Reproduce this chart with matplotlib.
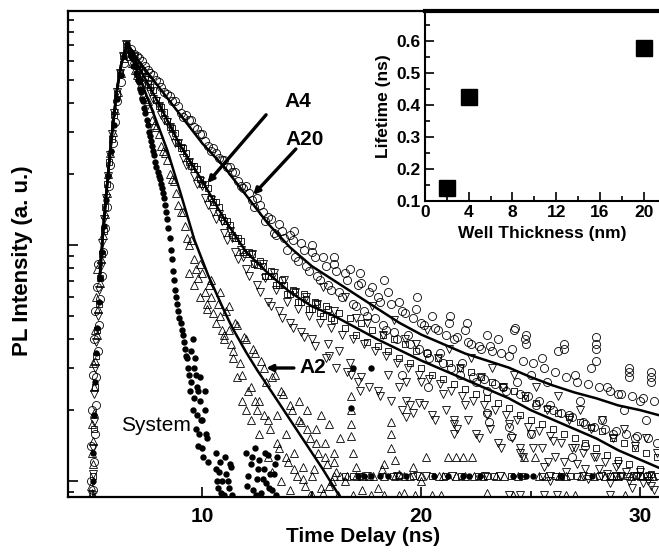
import numpy as np
import matplotlib
matplotlib.use("Agg")
import matplotlib.pyplot as plt
from matplotlib.ticker import FixedLocator, LogLocator, NullFormatter, FormatStrFormatter

plt.rcParams["font.family"] = ["Liberation Sans", "DejaVu Sans"]
plt.rcParams["font.weight"] = "bold"

# time channels of the slow decays (ns); the second set sits between the first
T_DECAY = [6.75, 7.0, 7.25, 7.5, 7.75, 8.0, 8.25, 8.5, 8.75, 9.0,
           9.25, 9.5, 9.75, 10.0, 10.25, 10.5, 10.75, 11.0, 11.25, 11.5,
           11.75, 12.0, 12.25, 12.5, 12.75, 13.0, 13.25, 13.5, 13.75, 14.0,
           14.25, 14.5, 14.75, 15.0, 15.25, 15.5, 15.75, 16.0, 16.25, 16.5,
           16.75, 17.0, 17.25, 17.5, 17.75, 18.0, 18.25, 18.5, 18.75, 19.0,
           19.25, 19.5, 19.75, 20.0, 20.25, 20.5, 20.75, 21.0, 21.25, 21.5,
           21.75, 22.0, 22.25, 22.5, 22.75, 23.0, 23.25, 23.5, 23.75, 24.0,
           24.25, 24.5, 24.75, 25.0, 25.25, 25.5, 25.75, 26.0, 26.25, 26.5,
           26.75, 27.0, 27.25, 27.5, 27.75, 28.0, 28.25, 28.5, 28.75, 29.0,
           29.25, 29.5, 29.75, 30.0, 30.25, 30.5, 30.75]
T_HALF = [6.875, 7.125, 7.375, 7.625, 7.875, 8.125, 8.375, 8.625, 8.875, 9.125,
          9.375, 9.625, 9.875, 10.125, 10.375, 10.625, 10.875, 11.125, 11.375, 11.625,
          11.875, 12.125, 12.375, 12.625, 12.875, 13.125, 13.375, 13.625, 13.875, 14.125,
          14.375, 14.625, 14.875, 15.125, 15.375, 15.625, 15.875, 16.125, 16.375, 16.625,
          16.875, 17.125, 17.375, 17.625, 17.875, 18.125, 18.375, 18.625, 18.875, 19.125,
          19.375, 19.625, 19.875, 20.125, 20.375, 20.625, 20.875, 21.125, 21.375, 21.625,
          21.875, 22.125, 22.375, 22.625, 22.875, 23.125, 23.375, 23.625, 23.875, 24.125,
          24.375, 24.625, 24.875, 25.125, 25.375, 25.625, 25.875, 26.125, 26.375, 26.625,
          26.875, 27.125, 27.375, 27.625, 27.875, 28.125, 28.375, 28.625, 28.875, 29.125,
          29.375, 29.625, 29.875, 30.125, 30.375, 30.625]

# intensities are stored as log10 of PL intensity (a. u.)
a20_rise_t = [5.02, 5.05, 5.08, 5.12, 5.16, 5.21, 5.27, 5.33, 5.4, 5.48,
              5.56, 5.64, 5.72, 5.8, 5.9, 6.01, 6.12, 6.26, 6.4, 6.55,
              4.9, 4.93, 4.96, 5.0, 5.05, 5.1, 5.18, 5.25]
a20_rise_log = [-1.04, -0.92, -0.80, -0.68, -0.56, -0.45, -0.34, -0.23, -0.13, -0.03,
                0.07, 0.16, 0.25, 0.34, 0.43, 0.52, 0.61, 0.69, 0.77, 0.83,
                -1.0, -0.85, -0.70, -0.55, -0.40, -0.28, -0.18, -0.08]
a20_log = [0.83, 0.80, 0.78, 0.74, 0.72, 0.69, 0.65, 0.63, 0.61, 0.56,
           0.55, 0.53, 0.49, 0.47, 0.42, 0.41, 0.37, 0.36, 0.33, 0.31,
           0.25, 0.25, 0.19, 0.20, 0.14, 0.12, 0.05, 0.09, 0.03, 0.04,
           -0.05, 0.01, -0.09, -0.03, -0.13, -0.05, -0.17, -0.08, -0.20, -0.12,
           -0.10, -0.26, -0.16, -0.30, -0.18, -0.22, -0.34, -0.20, -0.37, -0.24,
           -0.29, -0.42, -0.27, -0.33, -0.46, -0.30, -0.36, -0.50, -0.33, -0.40,
           -0.55, -0.36, -0.42, -0.58, -0.44, -0.62, -0.45, -0.40, -0.60, -0.47,
           -0.36, -0.63, -0.40, -0.55, -0.68, -0.48, -0.58, -0.70, -0.45, -0.44,
           -0.72, -0.55, -0.66, -0.76, -0.52, -0.42, -0.74, -0.60, -0.80, -0.63,
           -0.70, -0.54, -0.82, -0.66, -0.74, -0.56, -0.84]
a20_log_half = [0.81, 0.79, 0.76, 0.73, 0.70, 0.67, 0.64, 0.61, 0.59, 0.54,
                0.53, 0.50, 0.47, 0.44, 0.40, 0.39, 0.36, 0.33, 0.31, 0.27,
                0.24, 0.22, 0.16, 0.17, 0.10, 0.11, 0.04, 0.06, -0.02, 0.02,
                -0.07, -0.02, -0.11, -0.05, -0.15, -0.09, -0.19, -0.11, -0.22, -0.15,
                -0.25, -0.17, -0.28, -0.20, -0.31, -0.24, -0.36, -0.25, -0.40, -0.28,
                -0.38, -0.31, -0.44, -0.34, -0.48, -0.35, -0.46, -0.38, -0.52, -0.39,
                -0.50, -0.41, -0.56, -0.43, -0.57, -0.43, -0.59, -0.46, -0.62, -0.44,
                -0.58, -0.49, -0.64, -0.50, -0.66, -0.52, -0.68, -0.54, -0.71, -0.56,
                -0.73, -0.58, -0.75, -0.59, -0.77, -0.60, -0.78, -0.62, -0.79, -0.63,
                -0.80, -0.64, -0.81, -0.65, -0.82, -0.66]
a20_extra_t = [14.2, 15.0, 16.0, 17.2, 18.3, 19.8, 21.3, 22.1, 23.0, 24.3,
               24.8, 24.8, 26.5, 28.0, 28.0, 28.0, 29.5, 29.5, 30.5, 30.5,
               19.1, 20.3, 23.0, 23.1, 24.0, 24.1, 25.0, 26.9, 27.5]
a20_extra_log = [0.06, 0.0, -0.05, -0.12, -0.15, -0.22, -0.30, -0.33, -0.38, -0.35,
                 -0.38, -0.42, -0.42, -0.39, -0.44, -0.49, -0.52, -0.56, -0.54, -0.58,
                 -0.55, -0.60, -0.71, -0.75, -0.77, -0.81, -0.80, -0.90, -0.85]

a4_sq_rise_t = [5.0, 5.04, 5.09, 5.14, 5.2, 5.26, 5.33, 5.41, 5.49, 5.57,
                5.66, 5.75, 5.85, 5.96, 6.08, 6.22, 6.37, 6.52]
a4_sq_rise_log = [-0.98, -0.78, -0.60, -0.47, -0.36, -0.25, -0.14, -0.04, 0.06, 0.16,
                  0.26, 0.35, 0.45, 0.55, 0.64, 0.73, 0.80, 0.85]
a4_sq_log = [0.81, 0.76, 0.74, 0.68, 0.655, 0.59, 0.565, 0.50, 0.475, 0.41,
             0.39, 0.335, 0.32, 0.26, 0.24, 0.18, 0.16, 0.10, 0.085, 0.03,
             0.015, -0.04, -0.04, -0.085, -0.09, -0.13, -0.13, -0.17, -0.17, -0.21,
             -0.20, -0.24, -0.23, -0.27, -0.25, -0.30, -0.27, -0.32, -0.29, -0.35,
             -0.31, -0.38, -0.33, -0.41, -0.36, -0.43, -0.38, -0.45, -0.40, -0.48,
             -0.42, -0.50, -0.45, -0.52, -0.46, -0.55, -0.48, -0.57, -0.50, -0.59,
             -0.52, -0.61, -0.54, -0.63, -0.56, -0.65, -0.58, -0.67, -0.60, -0.69,
             -0.62, -0.72, -0.65, -0.74, -0.67, -0.76, -0.69, -0.78, -0.71, -0.80,
             -0.73, -0.82, -0.75, -0.84, -0.77, -0.86, -0.79, -0.89, -0.82, -0.91,
             -0.84, -0.93, -0.86, -0.95, -0.88, -0.97, -0.90]
# squares on the half channels only up to 16 ns
a4_sq_log_half = [0.80, 0.745, 0.71, 0.67, 0.615, 0.585, 0.525, 0.495, 0.43, 0.41,
                  0.35, 0.335, 0.28, 0.26, 0.20, 0.18, 0.12, 0.10, 0.04, 0.03,
                  -0.03, -0.03, -0.08, -0.07, -0.13, -0.11, -0.17, -0.15, -0.21, -0.19,
                  -0.24, -0.21, -0.27, -0.24, -0.29, -0.26, -0.31]

a4_dn_rise_t = [4.96, 4.98, 5.0, 5.03, 5.06, 5.1, 5.15, 5.21, 5.28, 5.35,
                5.43, 5.51, 5.59, 5.68, 5.77, 5.87, 5.98, 6.1, 6.24, 6.38, 6.52]
a4_dn_rise_log = [-1.06, -0.97, -0.86, -0.75, -0.63, -0.52, -0.41, -0.30, -0.19, -0.09,
                  0.01, 0.11, 0.20, 0.29, 0.38, 0.47, 0.56, 0.65, 0.73, 0.80, 0.85]
a4_dn_log = [0.80, 0.76, 0.71, 0.68, 0.62, 0.59, 0.53, 0.50, 0.43, 0.41,
             0.34, 0.33, 0.26, 0.25, 0.17, 0.14, 0.13, 0.05, 0.06, -0.03,
             -0.02, -0.10, -0.04, -0.17, -0.08, -0.24, -0.12, -0.28, -0.15, -0.33,
             -0.20, -0.37, -0.22, -0.40, -0.25, -0.18, -0.42, -0.28, -0.45, -0.22,
             -0.50, -0.31, -0.56, -0.33, -0.26, -0.62, -0.38, -0.55, -0.32, -0.60,
             -0.40, -0.68, -0.42, -0.58, -0.36, -0.72, -0.48, -0.63, -0.44, -0.76,
             -0.52, -0.68, -0.48, -0.80, -0.56, -0.72, -0.52, -0.84, -0.60, -0.76,
             -0.55, -0.88, -0.64, -0.80, -0.60, -0.86, -0.70, -0.83, -0.64, -0.92,
             -0.74, -0.86, -0.70, -0.95, -0.78, -0.90, -0.74, -0.97, -0.82, -0.93,
             -0.78, -1.00, -0.85, -0.96, -0.82, -1.02, -0.88]
a4_dn_log_half = [0.78, 0.73, 0.70, 0.65, 0.61, 0.55, 0.52, 0.46, 0.43, 0.37,
                  0.35, 0.29, 0.27, 0.20, 0.19, 0.11, 0.10, 0.02, 0.03, -0.06,
                  -0.05, -0.13, -0.08, -0.20, -0.14, -0.26, -0.19, -0.31, -0.24, -0.35,
                  -0.27, -0.39, -0.30, -0.43, -0.33, -0.48, -0.35, -0.52, -0.38, -0.54,
                  -0.40, -0.58, -0.42, -0.60, -0.45, -0.64, -0.47, -0.66, -0.50, -0.70,
                  -0.52, -0.71, -0.55, -0.68, -0.57, -0.74, -0.59, -0.70, -0.62, -0.78,
                  -0.64, -0.74, -0.66, -0.82, -0.68, -0.78, -0.70, -0.86, -0.72, -0.82,
                  -0.74, -0.90, -0.77, -0.86, -0.79, -0.94, -0.81, -0.90, -0.84, -0.96,
                  -0.86, -0.93, -0.88, -0.99, -0.90, -0.95, -0.92, -1.01, -0.94, -0.98,
                  -0.96, -1.03, -0.98, -1.01, -1.00, -1.04]
a4_dn_extra_t = [15.8, 16.8, 17.2, 19.3, 19.3, 19.3, 19.9, 21.5, 21.5, 24.5, 25.8, 25.9]
a4_dn_extra_log = [-0.47, -0.55, -0.62, -0.58, -0.66, -0.73, -0.67, -0.74, -0.80, -0.86, -0.92, -1.00]

a2_rise_t = [4.95, 4.99, 5.01, 5.04, 5.07, 5.11, 5.17, 5.24, 5.31, 5.39,
             5.47, 5.55, 5.63, 5.71, 5.8, 5.9, 6.01, 6.13, 6.27, 6.41, 6.55,
             4.92, 4.94, 4.97, 5.02, 5.08, 5.14, 5.2]
a2_rise_log = [-1.05, -0.93, -0.83, -0.71, -0.60, -0.49, -0.38, -0.27, -0.16, -0.06,
               0.04, 0.13, 0.22, 0.30, 0.39, 0.48, 0.57, 0.65, 0.73, 0.79, 0.84,
               -1.02, -0.88, -0.76, -0.50, -0.36, -0.22, -0.10]
a2_t = [6.7, 6.9, 7.1, 7.3, 7.5, 7.7, 7.9, 8.1, 8.3, 8.5,
        8.7, 8.9, 9.1, 9.3, 9.5, 9.7, 9.9, 10.1, 10.3, 10.5,
        10.7, 10.9, 11.1, 11.3, 11.5, 11.7, 11.9, 12.1, 12.3, 12.5,
        12.7, 12.9, 13.1, 13.3, 13.5, 13.7, 13.9, 14.1, 14.3, 14.5,
        14.7, 14.9, 15.1, 15.3, 15.5, 15.7, 15.9, 16.1]
a2_log = [0.80, 0.74, 0.71, 0.64, 0.61, 0.53, 0.50, 0.42, 0.39, 0.30,
          0.27, 0.17, 0.14, 0.03, 0.02, -0.10, -0.08, -0.20, -0.17, -0.29,
          -0.25, -0.36, -0.28, -0.42, -0.33, -0.50, -0.39, -0.62, -0.44, -0.70,
          -0.49, -0.58, -0.78, -0.55, -0.86, -0.63, -0.92, -0.70, -0.98, -0.75,
          -1.02, -0.82, -0.95, -0.88, -1.05, -0.93, -1.00, -0.96]
a2_t2 = [6.8, 7.0, 7.2, 7.4, 7.6, 7.8, 8.0, 8.2, 8.4, 8.6,
         8.8, 9.0, 9.2, 9.4, 9.6, 9.8, 10.0, 10.2, 10.4, 10.6,
         10.8, 11.0, 11.2, 11.4, 11.6, 11.8, 12.0, 12.2, 12.4, 12.6,
         12.8, 13.0, 13.2, 13.4, 13.6, 13.8, 14.0, 14.2, 14.4, 14.6,
         14.8, 15.0, 15.2, 15.4, 15.6, 15.8, 16.0]
a2_log2 = [0.77, 0.72, 0.68, 0.62, 0.58, 0.51, 0.47, 0.40, 0.36, 0.28,
           0.22, 0.14, 0.08, 0.0, -0.06, -0.14, -0.12, -0.25, -0.15, -0.33,
           -0.20, -0.38, -0.26, -0.45, -0.34, -0.55, -0.40, -0.60, -0.46, -0.66,
           -0.52, -0.74, -0.56, -0.84, -0.62, -0.90, -0.68, -0.95, -0.74, -0.99,
           -0.78, -0.98, -0.84, -1.03, -0.90, -1.02, -0.92]
a2_extra_t = [9.4, 9.6, 9.9, 10.2, 10.4, 10.8, 11.0, 11.2, 11.4, 11.6,
              11.8, 12.0, 12.2, 12.4, 12.6, 12.8, 13.0, 13.2, 13.4, 13.6,
              13.8, 14.0, 14.2, 14.4, 14.6, 14.8, 15.0, 15.2, 15.4, 15.6,
              15.8, 16.0, 16.3, 16.5, 16.8, 16.8, 16.8, 16.8, 16.9, 17.0,
              17.3, 17.6, 18.0, 18.3, 18.6, 18.6, 18.6, 18.2, 18.8, 19.0,
              19.2, 19.6, 20.0, 20.2, 20.5, 21.2, 21.6, 21.9, 22.3, 23.0,
              24.7, 25.2, 27.0]
a2_extra_log = [-0.12, -0.17, -0.22, -0.27, -0.22, -0.30, -0.40, -0.36, -0.48, -0.56,
                -0.66, -0.70, -0.74, -0.66, -0.80, -0.72, -0.90, -0.96, -0.72, -1.00,
                -0.80, -1.04, -0.88, -0.66, -0.94, -0.70, -1.06, -0.78, -0.72, -0.84,
                -0.76, -0.88, -0.82, -1.00, -0.64, -0.70, -0.76, -0.81, -0.88, -0.94,
                -1.04, -0.98, -1.03, -0.93, -0.75, -0.80, -0.86, -0.95, -0.91, -0.97,
                -1.05, -0.94, -1.00, -0.90, -1.06, -0.90, -0.90, -0.90, -0.90, -1.05,
                -0.90, -0.90, -1.06]

sys_rise_t = [4.99, 5.02, 5.05, 5.09, 5.13, 5.19, 5.26, 5.33, 5.41, 5.5,
              5.6, 5.7, 5.82, 5.95, 6.1, 6.26, 6.42, 6.56]
sys_rise_log = [-1.0, -0.88, -0.72, -0.58, -0.46, -0.35, -0.24, -0.14, -0.03, 0.08,
                0.19, 0.29, 0.40, 0.51, 0.62, 0.72, 0.80, 0.85]
sys_t = [6.7, 6.8, 6.9, 7.0, 7.1, 7.2, 7.3, 7.4, 7.5, 7.6,
         7.7, 7.8, 7.9, 8.0, 8.1, 8.2, 8.3, 8.4, 8.5, 8.6,
         8.7, 8.8, 8.9, 9.0, 9.1, 9.2, 9.3, 9.4, 9.45, 9.5,
         9.55, 9.6, 9.7, 9.75, 9.8, 9.9, 10.0, 10.05, 10.1, 10.2,
         10.6, 10.7, 10.8, 10.9, 11.0, 11.1, 11.2, 11.3, 12.0, 12.1,
         12.2, 12.3, 12.4, 12.5, 12.6, 12.7, 12.8, 12.9, 13.0, 13.1,
         13.2, 13.3, 16.8, 16.9, 17.7]
sys_log = [0.82, 0.79, 0.76, 0.72, 0.69, 0.65, 0.61, 0.56, 0.51, 0.46,
           0.42, 0.38, 0.33, 0.29, 0.26, 0.22, 0.17, 0.11, 0.03, -0.06,
           -0.15, -0.22, -0.28, -0.33, -0.38, -0.44, -0.48, -0.55, -0.62, -0.45,
           -0.70, -0.52, -0.78, -0.60, -0.85, -0.66, -0.74, -0.90, -0.70, -0.82,
           -0.95, -1.03, -0.92, -1.00, -1.06, -0.97, -1.03, -0.94, -0.88, -0.98,
           -0.93, -1.04, -0.86, -0.99, -0.91, -1.05, -0.95, -1.01, -0.89, -0.97,
           -1.04, -0.93, -0.69, -0.52, -0.52]
sys_t2 = [6.75, 6.85, 6.95, 7.05, 7.15, 7.25, 7.35, 7.45, 7.55, 7.65,
          7.75, 7.85, 7.95, 8.05, 8.15, 8.25, 8.35, 8.45, 8.55, 8.65,
          8.75, 8.85, 8.95, 9.05, 9.15, 9.25, 9.35]
sys_log2 = [0.80, 0.76, 0.73, 0.70, 0.66, 0.62, 0.58, 0.53, 0.48, 0.44,
            0.40, 0.35, 0.31, 0.28, 0.24, 0.20, 0.14, 0.07, -0.02, -0.11,
            -0.19, -0.25, -0.31, -0.36, -0.41, -0.47, -0.52]
sys_extra_t = [9.5, 9.55, 9.6, 9.65, 9.7, 9.75, 9.8, 9.85, 9.9, 9.95,
               10.0, 10.1, 10.15, 10.25, 10.6, 10.65, 10.75, 10.85, 11.05, 11.15,
               11.25, 11.35, 12.05, 12.25, 12.45, 12.55, 12.75, 12.85, 13.05, 13.25,
               13.35, 13.4]
sys_extra_log = [-0.58, -0.40, -0.65, -0.48, -0.55, -0.72, -0.62, -0.80, -0.56, -0.74,
                 -0.86, -0.62, -0.80, -0.92, -0.88, -1.00, -0.96, -1.05, -0.90, -1.00,
                 -0.93, -1.06, -1.02, -0.90, -1.06, -0.95, -0.99, -0.88, -1.03, -0.97,
                 -1.06, -0.90]

# background floor of the detector (log10 level) and the markers sitting on it
FLOOR_LOG = -0.98
EDGE_LOG = -1.06
floor_a2_t = [16.0, 16.3, 16.6, 17.0, 17.3, 17.8, 18.3, 18.8, 19.2, 19.5,
              20.0, 20.8, 21.0, 21.6, 22.0, 22.4, 22.8, 23.4, 23.8, 24.4,
              25.4, 25.7, 26.3, 26.6, 27.3, 27.9, 28.4, 28.7, 29.0, 29.6,
              30.1, 30.4, 30.6]
floor_sq_t = [16.5, 16.9, 17.2, 18.7, 19.0, 19.6, 20.5, 21.1, 21.8, 22.6,
              23.0, 23.3, 24.1, 24.6, 25.5, 26.1, 26.4, 26.8, 27.1, 27.6,
              28.1, 28.6, 28.9, 29.1, 29.4, 29.8, 30.0, 30.3, 30.8]
floor_dn_t = [17.5, 18.9, 19.8, 20.2, 21.4, 22.9, 23.6, 25.9, 27.4, 28.2,
              28.9, 29.7, 30.4]
floor_sys_t = [17.1, 17.4, 17.7, 18.1, 18.5, 19.3, 20.6, 21.2, 21.9, 22.2,
               22.7, 24.2, 24.5, 24.8, 25.1, 26.4, 27.8]
edge_a2_t = [14.9, 16.2, 16.9, 17.7, 18.3, 19.0, 19.7, 20.9, 24.2, 26.6, 29.3]
edge_dn_t = [24.0, 24.5, 25.6, 26.2, 28.6]

# fitted decay curves
fit_rise_t = [5.3, 5.5, 5.7, 5.9, 6.1, 6.3, 6.5, 6.6]
fit_rise_log = [-0.15, 0.10, 0.31, 0.50, 0.66, 0.77, 0.83, 0.845]
fit_a20_t = [6.8, 7.0, 8.0, 9.0, 10.0, 11.0, 12.0, 13.0, 14.0, 15.0, 16.0, 17.0,
             18.0, 19.0, 20.0, 21.0, 22.0, 23.0, 24.0, 25.0, 26.0, 27.0, 28.0,
             29.0, 30.0, 31.0]
fit_a20_log = [0.82, 0.79, 0.67, 0.55, 0.43, 0.33, 0.21, 0.09, -0.01, -0.09, -0.15, -0.21,
               -0.27, -0.33, -0.38, -0.42, -0.46, -0.49, -0.52, -0.56, -0.595, -0.625, -0.65,
               -0.68, -0.70, -0.725]
fit_a4_t = fit_a20_t
fit_a4_log = [0.80, 0.77, 0.60, 0.42, 0.27, 0.11, -0.03, -0.12, -0.20, -0.26, -0.30, -0.35,
              -0.40, -0.445, -0.49, -0.53, -0.57, -0.61, -0.65, -0.70, -0.74, -0.78, -0.82,
              -0.87, -0.91, -0.95]
fit_a2_t = [6.8, 7.0, 7.5, 8.0, 8.4, 9.0, 9.64, 10.27, 11.0, 11.36, 12.0, 12.5,
            13.36, 14.5, 15.5, 16.3, 16.5]
fit_a2_log = [0.79, 0.745, 0.62, 0.50, 0.40, 0.22, 0.02, -0.13, -0.28, -0.35, -0.455, -0.53,
              -0.65, -0.81, -0.95, -1.07, -1.10]

# inset: lifetime vs well thickness
well_nm = [2, 4, 20]
lifetime_ns = [0.141, 0.427, 0.578]


def pl(*logs):
    return 10 ** np.concatenate([np.asarray(v, dtype=float) for v in logs])


def tt(*times):
    return np.concatenate([np.asarray(v, dtype=float) for v in times])


fig = plt.figure(figsize=(6.59, 5.57), dpi=100)
ax = fig.add_axes([68 / 659, 1 - 497 / 557, 1 - 68 / 659, 486 / 557])

open_kw = dict(ls="none", mfc="none", mec="black", mew=0.6)
n_sq_half = len(a4_sq_log_half)
ax.plot(tt(a20_rise_t, T_DECAY, T_HALF, a20_extra_t),
        pl(a20_rise_log, a20_log, a20_log_half, a20_extra_log),
        marker="o", ms=5.8, **open_kw)
ax.plot(tt(a4_dn_rise_t, T_DECAY, T_HALF, a4_dn_extra_t, floor_dn_t, edge_dn_t),
        pl(a4_dn_rise_log, a4_dn_log, a4_dn_log_half, a4_dn_extra_log,
           [FLOOR_LOG] * len(floor_dn_t), [EDGE_LOG] * len(edge_dn_t)),
        marker="v", ms=6.2, **open_kw)
ax.plot(tt(a4_sq_rise_t, T_DECAY, T_HALF[:n_sq_half], floor_sq_t),
        pl(a4_sq_rise_log, a4_sq_log, a4_sq_log_half, [FLOOR_LOG] * len(floor_sq_t)),
        marker="s", ms=5.0, **open_kw)
ax.plot(tt(a2_rise_t, a2_t, a2_t2, a2_extra_t, floor_a2_t, edge_a2_t),
        pl(a2_rise_log, a2_log, a2_log2, a2_extra_log,
           [FLOOR_LOG] * len(floor_a2_t), [EDGE_LOG] * len(edge_a2_t)),
        marker="^", ms=6.2, **open_kw)
ax.plot(tt(sys_rise_t, sys_t, sys_t2, sys_extra_t, floor_sys_t),
        pl(sys_rise_log, sys_log, sys_log2, sys_extra_log, [FLOOR_LOG] * len(floor_sys_t)),
        ls="none", marker="o", ms=4.6, color="black", mew=0)

for ft, fl in [(fit_a20_t, fit_a20_log), (fit_a4_t, fit_a4_log), (fit_a2_t, fit_a2_log)]:
    ax.plot(tt(fit_rise_t, ft), pl(fit_rise_log, fl), color="black", lw=1.8, zorder=5)

ax.set_yscale("log")
ax.set_xlim(3.86, 30.86)
ax.set_ylim(0.0855, 9.8)
ax.xaxis.set_major_locator(FixedLocator([10, 20, 30]))
ax.xaxis.set_minor_locator(FixedLocator([5, 15, 25]))
ax.yaxis.set_major_locator(LogLocator(base=10))
ax.yaxis.set_minor_locator(LogLocator(base=10, subs=np.arange(2, 10)))
ax.yaxis.set_major_formatter(NullFormatter())
ax.yaxis.set_minor_formatter(NullFormatter())
ax.tick_params(which="both", direction="in", width=1.2, top=False, right=False)
ax.tick_params(which="major", length=7)
ax.tick_params(which="minor", length=4.5)
ax.tick_params(axis="x", labelsize=15, pad=7)
for name in ("left", "bottom", "top"):
    ax.spines[name].set_linewidth(1.6)
ax.spines["right"].set_visible(False)

ax.set_xlabel("Time Delay (ns)", fontsize=15, fontweight="bold")
ax.xaxis.set_label_coords(0.5, -0.062)
ax.set_ylabel("PL Intensity (a. u.)", fontsize=16, fontweight="bold")
ax.yaxis.set_label_coords(-0.059, 0.486)

arrow = dict(arrowstyle="-|>", color="black", lw=2.4, mutation_scale=9, shrinkA=0, shrinkB=0)
ax.annotate("", xy=(10.23, 1.83), xytext=(12.91, 3.56), arrowprops=arrow, zorder=6)
ax.annotate("", xy=(12.32, 1.63), xytext=(14.27, 2.55), arrowprops=arrow, zorder=6)
ax.annotate("", xy=(12.91, 0.301), xytext=(14.18, 0.301), arrowprops=arrow, zorder=6)
ax.text(14.36, 4.07, "A4", fontsize=15, fontweight="bold", ha="center", va="center")
ax.text(14.68, 2.81, "A20", fontsize=15, fontweight="bold", ha="center", va="center")
ax.text(14.45, 0.301, "A2", fontsize=15, fontweight="bold", ha="left", va="center")
ax.text(7.86, 0.171, "System", fontsize=15, fontweight="normal", ha="center", va="center")

# inset
axi = fig.add_axes([425 / 659, 1 - 201 / 557, 234 / 659, 190 / 557])
axi.set_facecolor("white")
axi.plot(well_nm, lifetime_ns, ls="none", marker="s", ms=11, color="black")
axi.set_xlim(0, 21.4)
axi.set_ylim(0.1, 0.695)
axi.xaxis.set_major_locator(FixedLocator([0, 4, 8, 12, 16, 20]))
axi.xaxis.set_minor_locator(FixedLocator([2, 6, 10, 14, 18]))
axi.yaxis.set_major_locator(FixedLocator([0.1, 0.2, 0.3, 0.4, 0.5, 0.6]))
axi.yaxis.set_minor_locator(FixedLocator([0.15, 0.25, 0.35, 0.45, 0.55, 0.65]))
axi.yaxis.set_major_formatter(FormatStrFormatter("%.1f"))
axi.tick_params(which="both", direction="in", width=1.2, labelsize=12.5, pad=3,
                top=False, right=False)
axi.tick_params(which="major", length=6.5)
axi.tick_params(which="minor", length=3.5)
axi.spines["right"].set_visible(False)
for name in ("left", "bottom"):
    axi.spines[name].set_linewidth(1.5)
axi.spines["top"].set_linewidth(3.0)
axi.set_xlabel("Well Thickness (nm)", fontsize=12.5, fontweight="bold")
axi.set_ylabel("Lifetime (ns)", fontsize=12.5, fontweight="bold")

fig.savefig("out.png", dpi=100)
